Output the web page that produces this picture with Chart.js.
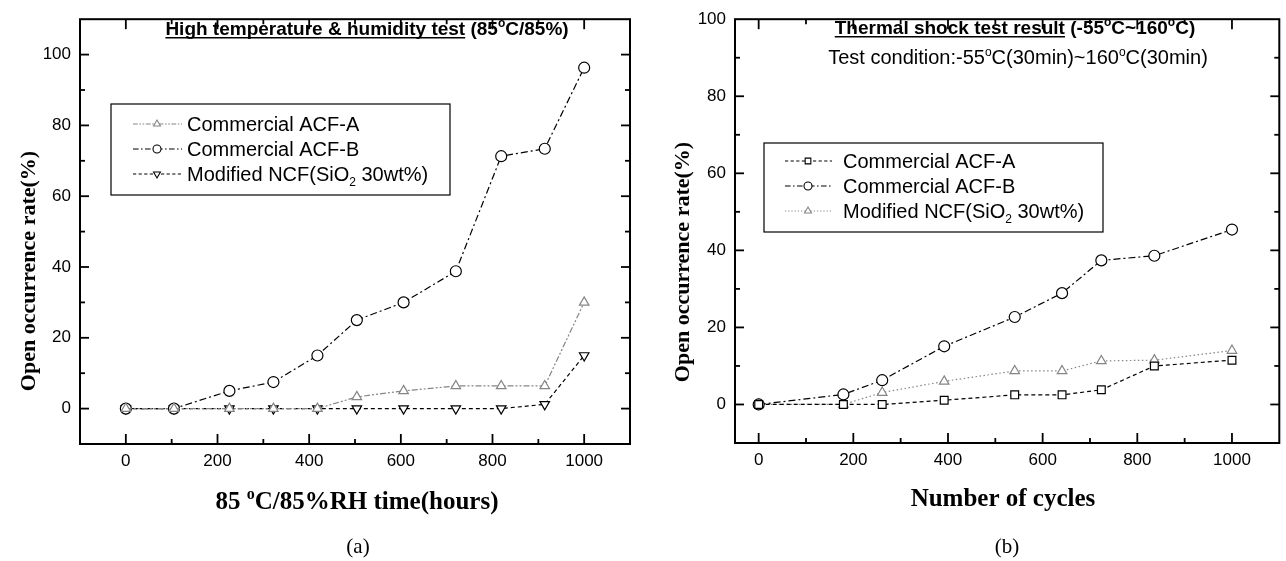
<!DOCTYPE html>
<html>
<head>
<meta charset="utf-8">
<script src="https://cdn.jsdelivr.net/npm/chart.js@4.4.1/dist/chart.umd.min.js"></script>
<style>
  html, body { margin: 0; padding: 0; background: #fff; overflow: hidden; }
  #wrapA { position: absolute; left: 0; top: 0; }
  #wrapB { position: absolute; left: 640px; top: 0; }
</style>
</head>
<body>
<div id="wrapA"><canvas id="chartA" width="640" height="561"></canvas></div>
<div id="wrapB"><canvas id="chartB" width="646" height="561"></canvas></div>
<script>
// (a) high temperature & humidity test
const hours = [0, 105, 226, 322, 418, 504, 606, 720, 819, 914, 1000];
const humAcfA = [0, 0, 0, 0, 0, 3.3, 5, 6.4, 6.4, 6.4, 30];
const humAcfB = [0, 0, 5, 7.5, 15, 25, 30, 38.8, 71.3, 73.4, 96.3];
const humNcf = [0, 0, 0, 0, 0, 0, 0, 0, 0, 1.2, 15];

// (b) thermal shock test
const cycles = [0, 179, 261, 392, 541, 641, 724, 836, 1000];
const tsAcfA = [0, 0, 0, 1.1, 2.5, 2.5, 3.8, 10, 11.5];
const tsAcfB = [0, 2.6, 6.3, 15.1, 22.7, 28.9, 37.4, 38.6, 45.4];
const tsNcf = [0, 0, 3.1, 6, 8.7, 8.7, 11.3, 11.5, 14];

const xTickVals = [0, 200, 400, 600, 800, 1000];
const yTickVals = [0, 20, 40, 60, 80, 100];
const seriesNames = ['Commercial ACF-A', 'Commercial ACF-B', 'Modified NCF(SiO2 30wt%)'];

const SANS = "'Liberation Sans', Arial, sans-serif";
const SERIF = "'Liberation Serif', 'Times New Roman', serif";
const GRAY = '#858585';

const DASH_DOT = [7, 3, 2, 3];
const DASH_DOT_DOT = [6, 2, 2, 2, 2, 2];
const DASHED = [4, 3];
const DOTTED = [1.5, 2.5];

const toPts = (xs, ys) => xs.map((x, i) => ({ x, y: ys[i] }));

function series(label, xs, ys, color, dash, pointStyle, rotation) {
  return {
    label,
    data: toPts(xs, ys),
    borderColor: color,
    borderWidth: 1.2,
    borderDash: dash,
    pointStyle,
    rotation: rotation || 0,
    pointRadius: 5.5,
    pointBorderWidth: 1.2,
    pointBorderColor: color,
    pointBackgroundColor: '#fff',
    tension: 0,
  };
}

// draw a row of text pieces (sup/sub/underline) centred on cx, cy
function drawRuns(ctx, runs, cx, cy, angle) {
  const fontOf = r => `${r.bold ? 'bold ' : ''}${(r.sup || r.sub) ? Math.round(r.size * 0.62) : r.size}px ${r.family}`;
  let total = 0;
  runs.forEach(r => { ctx.font = fontOf(r); r.w = ctx.measureText(r.t).width; total += r.w; });
  ctx.save();
  ctx.translate(cx, cy);
  if (angle) ctx.rotate(angle);
  ctx.fillStyle = '#000';
  ctx.strokeStyle = '#000';
  ctx.textBaseline = 'alphabetic';
  ctx.textAlign = 'left';
  let x = -total / 2;
  const base = runs[0].size * 0.36;
  runs.forEach(r => {
    ctx.font = fontOf(r);
    let y = base;
    if (r.sup) y -= r.size * 0.42;
    if (r.sub) y += r.size * 0.22;
    ctx.fillText(r.t, x, y);
    if (r.u) {
      ctx.lineWidth = 1.5;
      ctx.beginPath();
      ctx.moveTo(x, base + 3);
      ctx.lineTo(x + r.w, base + 3);
      ctx.stroke();
    }
    x += r.w;
  });
  ctx.restore();
  return total;
}

function labelRuns(label, size) {
  const m = label.match(/^(.*SiO)2(.*)$/);
  if (!m) return [{ t: label, size, family: SANS }];
  return [
    { t: m[1], size, family: SANS },
    { t: '2', size, family: SANS, sub: true },
    { t: m[2], size, family: SANS },
  ];
}

const paperPlugin = {
  id: 'paper',
  afterDraw(chart, args, o) {
    const { ctx, chartArea: a, scales: { x, y } } = chart;
    ctx.save();
    // frame
    ctx.strokeStyle = '#000';
    ctx.lineWidth = 2;
    ctx.setLineDash([]);
    ctx.strokeRect(a.left, a.top, a.right - a.left, a.bottom - a.top);
    // inward ticks on all four sides
    ctx.lineWidth = 1.8;
    const seg = (x1, y1, x2, y2) => { ctx.beginPath(); ctx.moveTo(x1, y1); ctx.lineTo(x2, y2); ctx.stroke(); };
    for (let i = 0; i <= 10; i++) {
      const px = x.getPixelForValue(i * 100);
      const len = i % 2 === 0 ? 10 : 5;
      seg(px, a.bottom, px, a.bottom - len);
      seg(px, a.top, px, a.top + len);
    }
    for (let i = 0; i * 10 < y.max; i++) {
      const py = y.getPixelForValue(i * 10);
      const len = i % 2 === 0 ? 9 : 5;
      seg(a.left, py, a.left + len, py);
      seg(a.right, py, a.right - len, py);
    }
    // legend box
    const L = o.legend;
    ctx.lineWidth = 1.2;
    ctx.strokeRect(L.box[0], L.box[1], L.box[2] - L.box[0], L.box[3] - L.box[1]);
    chart.data.datasets.forEach((ds, i) => {
      const ry = L.rows[i];
      ctx.strokeStyle = ds.borderColor;
      ctx.lineWidth = 1.1;
      ctx.setLineDash(ds.borderDash.map(d => d * 0.8));
      seg(L.line[0], ry, L.line[1], ry);
      ctx.setLineDash([]);
      ctx.fillStyle = '#fff';
      Chart.helpers.drawPoint(ctx, { pointStyle: ds.pointStyle, rotation: ds.rotation, radius: 4, borderWidth: 1 }, L.mark, ry);
      const runs = labelRuns(ds.label, 20);
      let w = 0;
      runs.forEach(r => { ctx.font = `${r.sub ? 12 : 20}px ${SANS}`; w += ctx.measureText(r.t).width; });
      drawRuns(ctx, runs, L.text + w / 2, ry, 0);
    });
    // texts
    o.texts.forEach(t => drawRuns(ctx, t.runs, t.x, t.y, t.angle || 0));
    ctx.restore();
  },
};

function makeChart(id, datasets, sc, paper) {
  const canvas = document.getElementById(id);
  const W = canvas.width, H = canvas.height;
  const tickFont = { family: SANS, size: 17 };
  return new Chart(canvas.getContext('2d'), {
    type: 'line',
    data: { datasets },
    options: {
      responsive: false,
      animation: false,
      layout: { padding: { left: 0, bottom: 0, top: sc.top, right: W - sc.right } },
      plugins: { legend: { display: false }, tooltip: { enabled: false }, paper },
      scales: {
        x: {
          type: 'linear',
          min: sc.xMin, max: sc.xMax,
          afterBuildTicks: s => { s.ticks = xTickVals.map(v => ({ value: v })); },
          afterFit: s => { s.height = H - sc.bottom; },
          grid: { display: false, drawTicks: false },
          border: { display: false },
          ticks: { color: '#000', font: tickFont, padding: 7, maxRotation: 0, autoSkip: false, callback: v => String(v) },
        },
        y: {
          min: sc.yMin, max: sc.yMax,
          afterBuildTicks: s => { s.ticks = yTickVals.map(v => ({ value: v })); },
          afterFit: s => { s.width = sc.left; },
          grid: { display: false, drawTicks: false },
          border: { display: false },
          ticks: { color: '#000', font: tickFont, padding: 9, callback: v => String(v) },
        },
      },
    },
    plugins: [paperPlugin],
  });
}

const yTitle = [{ t: 'Open occurrence rate(%)', size: 22, bold: true, family: SERIF }];

makeChart('chartA', [
  series(seriesNames[0], hours, humAcfA, GRAY, DASH_DOT_DOT, 'triangle'),
  series(seriesNames[1], hours, humAcfB, '#000', DASH_DOT, 'circle'),
  series(seriesNames[2], hours, humNcf, '#000', DASHED, 'triangle', 180),
], { left: 80, right: 630, top: 13, bottom: 444, xMin: -100, xMax: 1100, yMin: -10, yMax: 110 }, {
  legend: { box: [111, 104, 450, 195], rows: [124, 149, 174], line: [133, 182], mark: 157, text: 187 },
  texts: [
    { x: 367, y: 28, runs: [
      { t: 'High temperature & humidity test', size: 19, bold: true, family: SANS, u: true },
      { t: ' (85', size: 19, bold: true, family: SANS },
      { t: 'o', size: 19, bold: true, family: SANS, sup: true },
      { t: 'C/85%)', size: 19, bold: true, family: SANS },
    ] },
    { x: 27, y: 271, angle: -Math.PI / 2, runs: yTitle },
    { x: 357, y: 500, runs: [
      { t: '85 ', size: 25, bold: true, family: SERIF },
      { t: 'o', size: 25, bold: true, family: SERIF, sup: true },
      { t: 'C/85%RH time(hours)', size: 25, bold: true, family: SERIF },
    ] },
    { x: 358, y: 545, runs: [{ t: '(a)', size: 21, family: SERIF }] },
  ],
});

makeChart('chartB', [
  series(seriesNames[0], cycles, tsAcfA, '#000', DASHED, 'rect'),
  series(seriesNames[1], cycles, tsAcfB, '#000', DASH_DOT, 'circle'),
  series(seriesNames[2], cycles, tsNcf, GRAY, DOTTED, 'triangle'),
], { left: 95, right: 641, top: 15, bottom: 443, xMin: -50, xMax: 1100, yMin: -10, yMax: 100 }, {
  legend: { box: [124, 143, 463, 232], rows: [161, 186, 211], line: [145, 192], mark: 168, text: 203 },
  texts: [
    { x: 375, y: 27, runs: [
      { t: 'Thermal shock test result', size: 19, bold: true, family: SANS, u: true },
      { t: ' (-55', size: 19, bold: true, family: SANS },
      { t: 'o', size: 19, bold: true, family: SANS, sup: true },
      { t: 'C~160', size: 19, bold: true, family: SANS },
      { t: 'o', size: 19, bold: true, family: SANS, sup: true },
      { t: 'C)', size: 19, bold: true, family: SANS },
    ] },
    { x: 378, y: 57, runs: [
      { t: 'Test condition:-55', size: 20, family: SANS },
      { t: 'o', size: 20, family: SANS, sup: true },
      { t: 'C(30min)~160', size: 20, family: SANS },
      { t: 'o', size: 20, family: SANS, sup: true },
      { t: 'C(30min)', size: 20, family: SANS },
    ] },
    { x: 41, y: 262, angle: -Math.PI / 2, runs: yTitle },
    { x: 363, y: 497, runs: [{ t: 'Number of cycles', size: 25, bold: true, family: SERIF }] },
    { x: 367, y: 545, runs: [{ t: '(b)', size: 21, family: SERIF }] },
  ],
});
</script>
</body>
</html>
